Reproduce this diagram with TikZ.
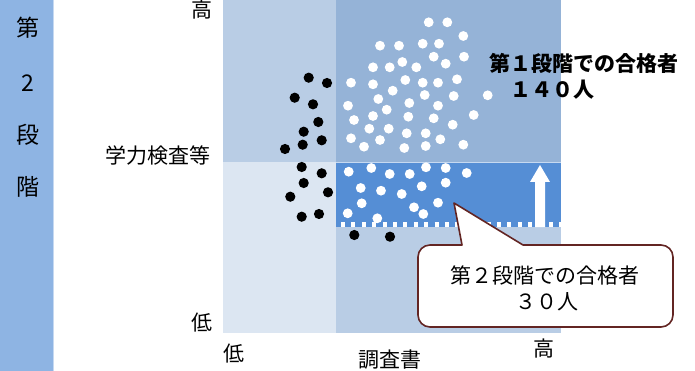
\documentclass[tikz,border=0pt]{standalone}
\usepackage{fontspec}
\setmainfont{Noto Sans CJK JP}
\definecolor{barblue}{HTML}{8EB4E3}
\definecolor{tlblue}{HTML}{B9CDE5}
\definecolor{trblue}{HTML}{95B3D7}
\definecolor{blblue}{HTML}{DCE6F2}
\definecolor{bandblue}{HTML}{558ED5}
\definecolor{edgeblue}{HTML}{C6D9F1}
\definecolor{callbrown}{HTML}{632523}
\begin{document}
\begin{tikzpicture}[x=1pt,y=-1pt,
  every node/.style={inner sep=0pt,outer sep=0pt},
  bartxt/.style={font=\fontsize{23}{27}\selectfont},
  axtxt/.style={font=\fontsize{21}{27}\selectfont},
  wdot/.style={fill=white},
  bdot/.style={fill=black},
  callout/.style={draw=callbrown,fill=white,line width=1.6pt,line join=round}]
\useasboundingbox (0,0) rectangle (695,371);
% left bar
\fill[barblue] (0,0) rectangle (53,371);
\draw[edgeblue,line width=1pt] (53,0) -- (53,371);
% quadrants
\fill[tlblue] (223,0) rectangle (336,162);
\fill[trblue] (336,0) rectangle (561,162);
\fill[blblue] (223,162) rectangle (336,333);
\fill[tlblue] (336,227) rectangle (561,333);
\fill[bandblue] (336,162) rectangle (561,227);
\draw[edgeblue,line width=1pt] (336,162.5) -- (561,162.5);
% dotted threshold line
\draw[white,line width=4pt,dash pattern=on 4pt off 6.4pt] (341,224.5) -- (561,224.5);
% up arrow
\fill[white] (535,227) -- (535,182) -- (530,182) -- (540,165) -- (550,182) -- (545,182) -- (545,227) -- cycle;
% white dots (first stage)
\foreach \p in {(428.7,22.3),(447.3,22.3),(463.3,36),(380,45.7),(399,45.7),(422.7,43.7),(439,43.7),(433.7,56.7),(464,56.7),(373,67.3),(389.7,67.3),(402.3,62),(416.3,67.3),(445.7,63.7),(351,82.7),(373,84.3),(405.3,80),(422.7,82.7),(438,82.7),(457,79.3),(392.7,90.7),(424.7,95),(453.7,96),(487.7,95.3),(378.3,99),(409.3,103),(348,105.7),(438,105.7),(386.7,109.7),(354,120),(373,116),(408.3,116.7),(433.7,118.3),(473.7,115),(452.7,124.7),(369.3,128.7),(388.7,128.7),(406.7,133.3),(425.7,133.3),(351,138.3),(380,140),(440.3,139.3),(364,146.7),(404.3,148),(425.7,146),(463.3,144.7)}
  \fill[wdot] \p circle (4.9);
% white dots (second stage)
\foreach \p in {(348.7,171.7),(371.3,168),(389.7,174),(409.7,174),(426,167.3),(445.7,168),(466.7,173),(360.7,188),(381,190.7),(401.7,194),(421.7,186.3),(445.7,182.7),(361.7,203.3),(414,207.3),(423.3,214),(438,202.7),(347.7,213.3),(377.3,218.3)}
  \fill[wdot] \p circle (4.9);
% black dots
\foreach \p in {(308.7,77.7),(327,83),(294.7,97.7),(313,104.3),(318.3,122),(303.7,131.7),(321.7,140.3),(302.7,144.7),(285,149),(301.7,167),(321.7,173.3),(303.7,183),(290.3,196.7),(328,192.3),(301.7,216.7),(319,214),(354.3,235),(390,236.7)}
  \fill[bdot] \p circle (5.1);
% left bar text
\node[bartxt] (b1) at (28,28) {第};
\node[bartxt] (b2) at (28,83) {2};
\node[bartxt] (b3) at (28,135) {段};
\node[bartxt] (b4) at (28,187) {階};
% axis labels
\node[axtxt] (hiY) at (202,10) {高};
\node[axtxt,anchor=east] (yax) at (210,156) {学力検査等};
\node[axtxt] (loY) at (202,323) {低};
\node[axtxt] (loX) at (234,354) {低};
\node[axtxt] (xax) at (390,360) {調査書};
\node[axtxt] (hiX) at (544,349) {高};
% first stage label
\node[axtxt,font=\fontsize{21}{27}\selectfont\bfseries,anchor=west] (p1) at (489,63) {第１段階での合格者};
\node[axtxt,font=\fontsize{21}{27}\selectfont\bfseries,anchor=west] (p1n) at (510,90) {１４０人};
% callout
\draw[callout] (454,203) -- (462,245) -- (430,245) arc[start angle=270,end angle=180,radius=12]
  -- (418,315) arc[start angle=180,end angle=90,radius=12]
  -- (661,327) arc[start angle=90,end angle=0,radius=12]
  -- (673,257) arc[start angle=0,end angle=-90,radius=12]
  -- (523,245) -- cycle;
\node[axtxt] (c1) at (545,275) {第２段階での合格者};
\node[axtxt] (c2) at (547,302) {３０人};
\end{tikzpicture}
\end{document}
